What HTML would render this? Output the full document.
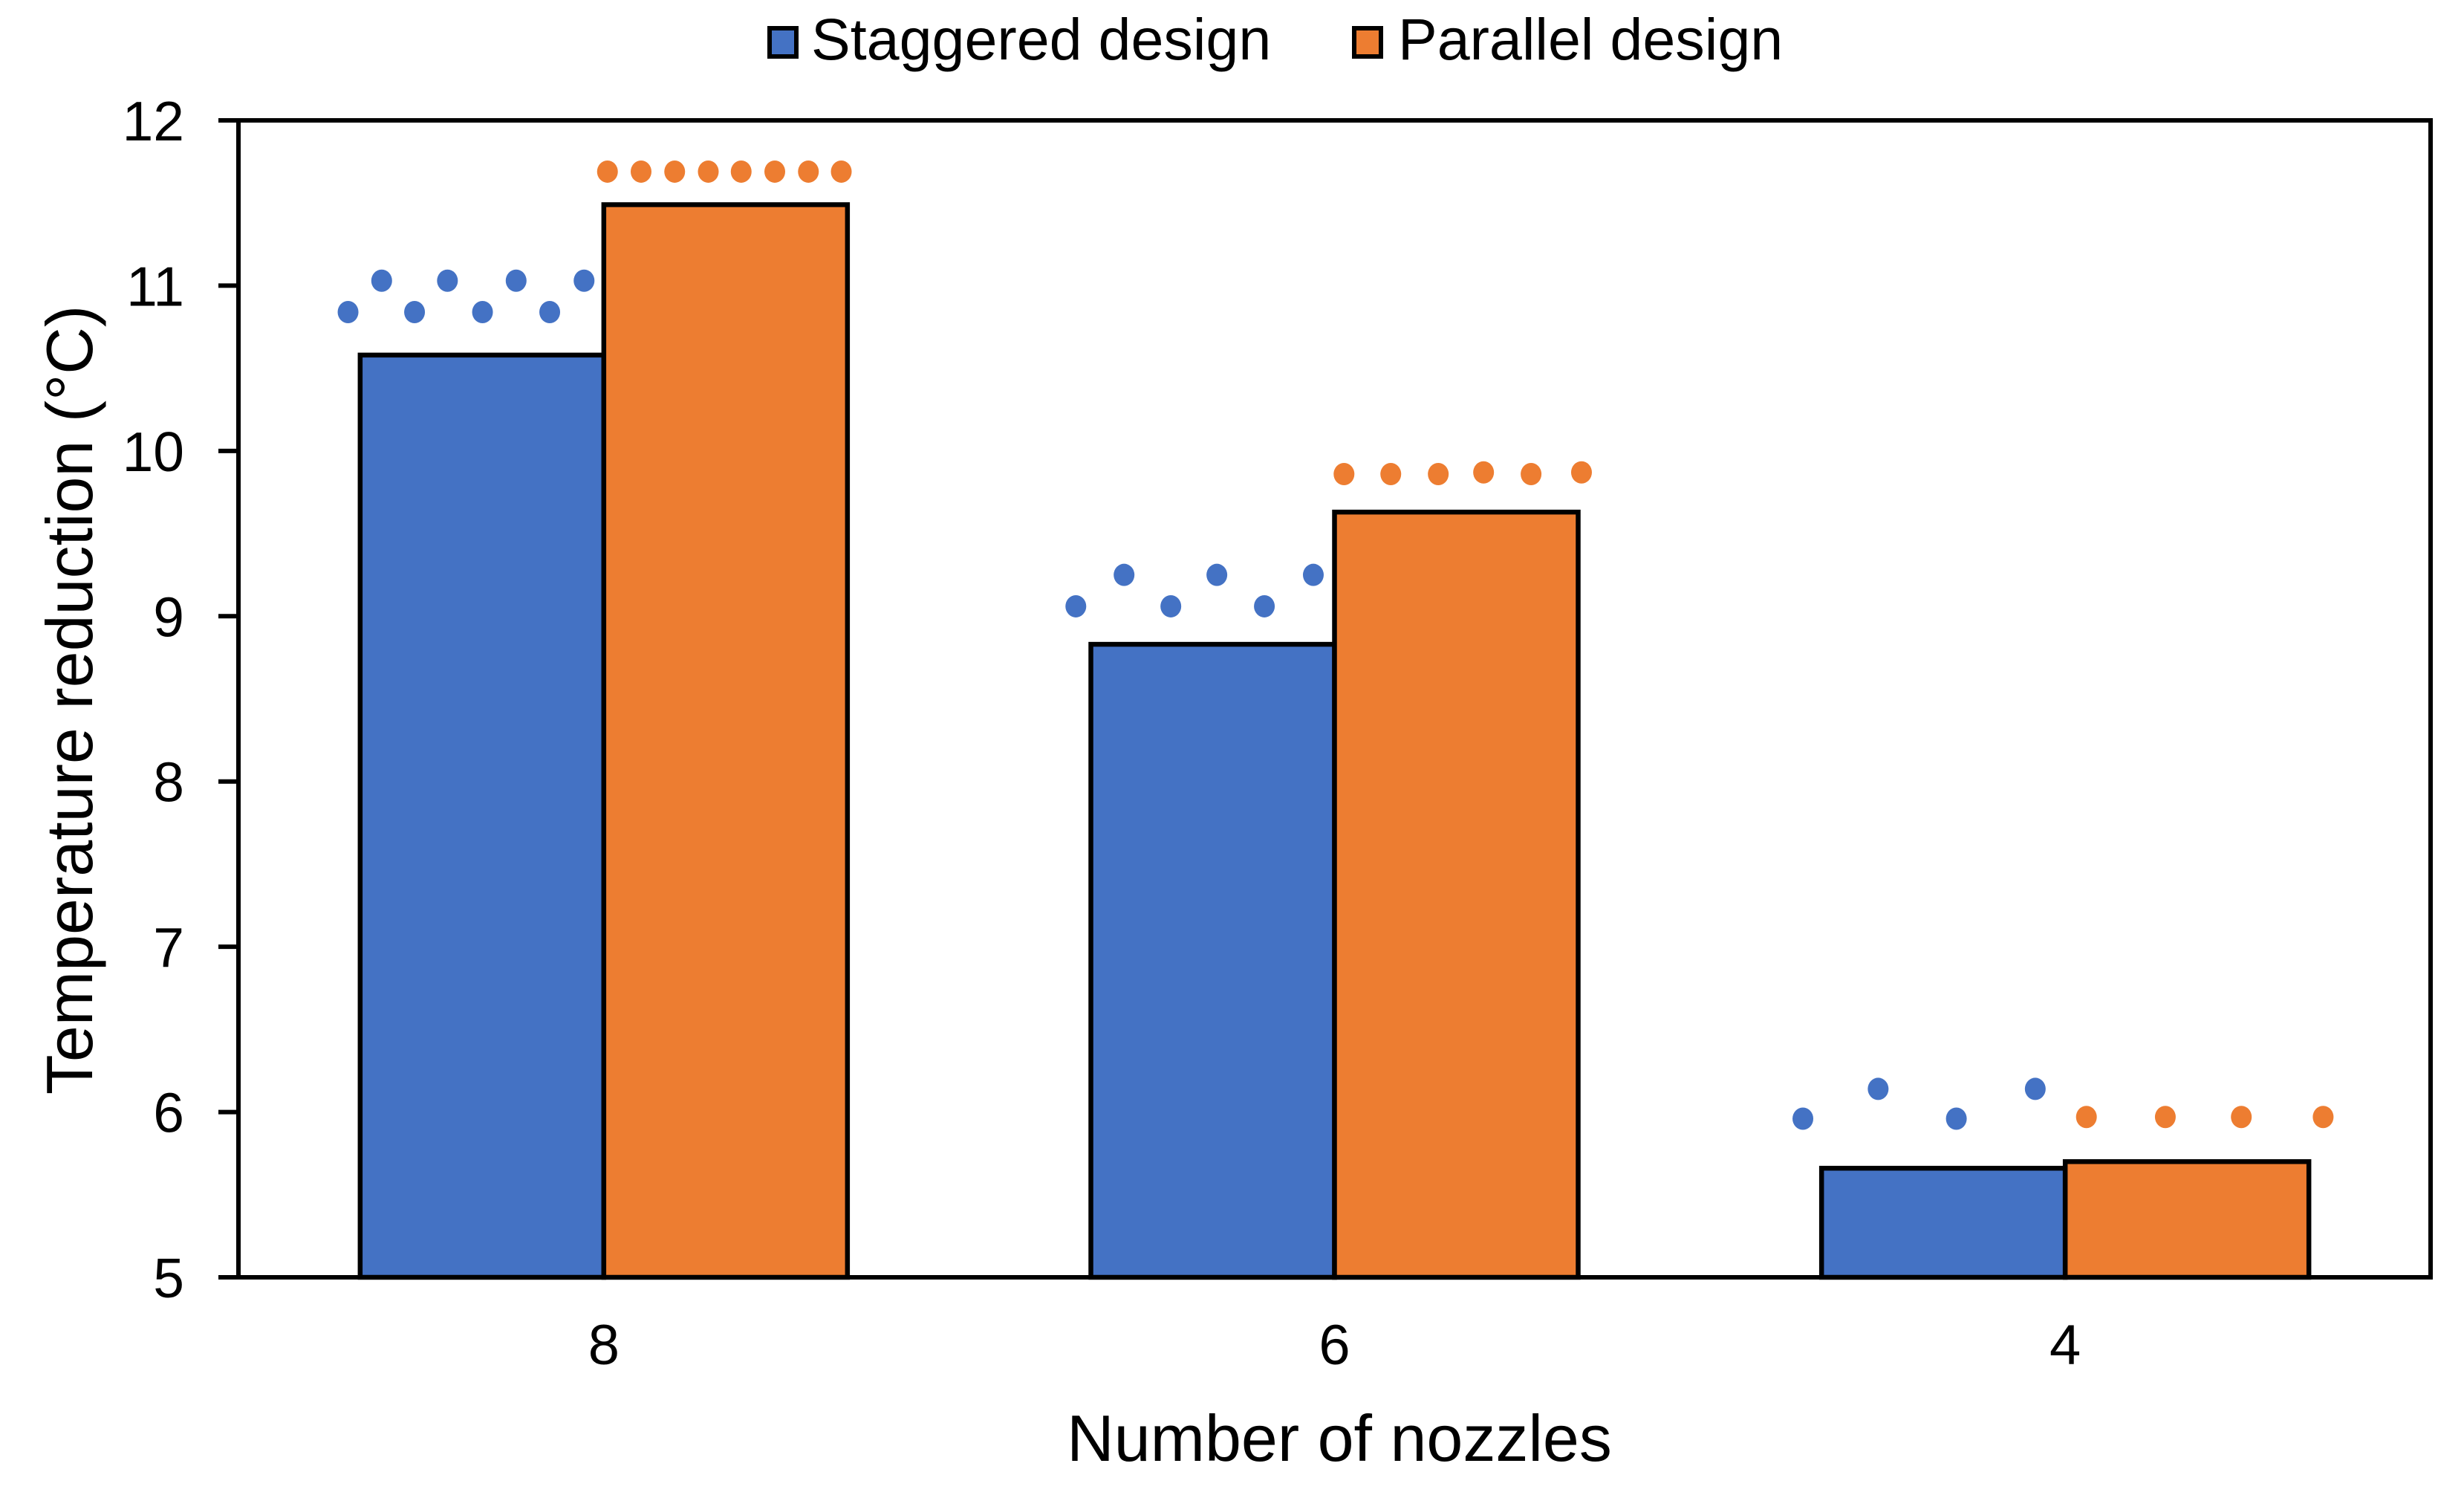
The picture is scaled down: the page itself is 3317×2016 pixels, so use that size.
<!DOCTYPE html>
<html><head><meta charset="utf-8"><style>
html,body{margin:0;padding:0;background:#fff;}
svg{display:block;font-family:"Liberation Sans",Arial,sans-serif;}
</style></head><body>
<svg id="chart" width="3317" height="2016" viewBox="0 0 3317 2016" xmlns="http://www.w3.org/2000/svg"></svg>
<script>
const categories = ["8", "6", "4"];
const staggeredValues = [10.58, 8.83, 5.66];
const parallelValues = [11.49, 9.63, 5.70];
const yTicks = [5, 6, 7, 8, 9, 10, 11, 12];
// decorative dot markers: category-axis position and value
const staggeredDotPos = [0.150,0.196,0.241,0.286,0.334,0.380,0.426,0.473, 1.146,1.212,1.276,1.339,1.404,1.471, 2.141,2.244,2.351,2.459];
const staggeredDotVal = [10.84,11.03,10.84,11.03,10.84,11.03,10.84,11.03, 9.06,9.25,9.06,9.25,9.06,9.25, 5.96,6.14,5.96,6.14];
const parallelDotPos = [0.505,0.551,0.597,0.643,0.688,0.734,0.780,0.825, 1.513,1.577,1.642,1.704,1.769,1.838, 2.529,2.637,2.741,2.853];
const parallelDotVal = [11.69,11.69,11.69,11.69,11.69,11.69,11.69,11.69, 9.86,9.86,9.86,9.87,9.86,9.87, 5.97,5.97,5.97,5.97];

const NS = "http://www.w3.org/2000/svg";
const svg = document.getElementById('chart');
const L = 321, R = 3272, T = 162, B = 1719;
const yMin = 5, yMax = 12;
const bandW = (R - L) / categories.length;
const barW = 328;
function y(v){ return B - (v - yMin) / (yMax - yMin) * (B - T); }
function xPos(p){ return L + p * bandW; }
function mk(tag, attrs){ const e = document.createElementNS(NS, tag); for (const k in attrs) e.setAttribute(k, attrs[k]); svg.appendChild(e); return e; }
const BLUE = "#4472C4", ORANGE = "#ED7D31";

// bars
categories.forEach((c, i) => {
  const cx = xPos(i + 0.5);
  const b1 = mk('rect', {x: cx - barW, y: y(staggeredValues[i]), width: barW, height: B - y(staggeredValues[i]), fill: BLUE, stroke: '#000', 'stroke-width': 6.5});
  
  
  const b2 = mk('rect', {x: cx, y: y(parallelValues[i]), width: barW, height: B - y(parallelValues[i]), fill: ORANGE, stroke: '#000', 'stroke-width': 6.5});
  
  
  const t = mk('text', {x: cx, y: 1836, 'font-size': 76, 'text-anchor': 'middle', fill: '#000'});
  t.textContent = c;
  
  
});

// dots
staggeredDotPos.forEach((p, i) => {
  const d = mk('ellipse', {cx: xPos(p), cy: y(staggeredDotVal[i]), rx: 14, ry: 15, fill: BLUE});
  
  
});
parallelDotPos.forEach((p, i) => {
  const d = mk('ellipse', {cx: xPos(p), cy: y(parallelDotVal[i]), rx: 14, ry: 15, fill: ORANGE});
  
  
});

// plot frame
const fr = mk('rect', {x: L, y: T, width: R - L, height: B - T, fill: 'none', stroke: '#000', 'stroke-width': 6});



// y ticks
yTicks.forEach(v => {
  const tk = mk('line', {x1: L - 27, x2: L, y1: y(v), y2: y(v), stroke: '#000', 'stroke-width': 6});
  
  
  const t = mk('text', {x: 248, y: y(v) + 27, 'font-size': 75, 'text-anchor': 'end', fill: '#000'});
  t.textContent = v;
  
  
});

// axis titles
const xt = mk('text', {x: 1803, y: 1966, 'font-size': 88, 'text-anchor': 'middle', fill: '#000'});
xt.textContent = 'Number of nozzles';


const yt = mk('text', {x: 0, y: 0, 'font-size': 88, 'text-anchor': 'middle', fill: '#000', transform: 'translate(124,942) rotate(-90)'});
yt.textContent = 'Temperature reduction (°C)';



// legend
const ls1 = mk('rect', {x: 1036, y: 38, width: 36, height: 38, fill: BLUE, stroke: '#000', 'stroke-width': 6});


const lt1 = mk('text', {x: 1092, y: 80, 'font-size': 79, fill: '#000'});
lt1.textContent = 'Staggered design';


const ls2 = mk('rect', {x: 1823, y: 38, width: 36, height: 38, fill: ORANGE, stroke: '#000', 'stroke-width': 6});


const lt2 = mk('text', {x: 1882, y: 80, 'font-size': 79, fill: '#000'});
lt2.textContent = 'Parallel design';


</script>
</body></html>
